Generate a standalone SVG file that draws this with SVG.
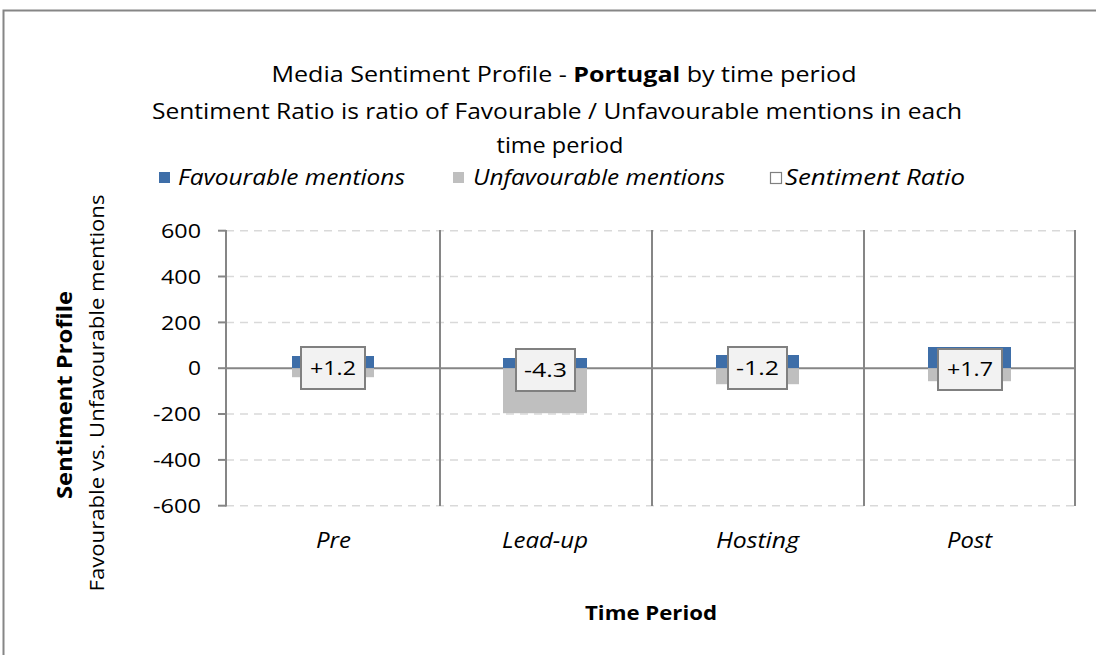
<svg xmlns="http://www.w3.org/2000/svg" width="1096" height="655" viewBox="0 0 1096 655">
  <style>
    .t { font-family: "Open Sans", "Liberation Sans", sans-serif; fill: #000; }
    .title { font-size: 21px; text-anchor: middle; }
    .leg { font-size: 21px; font-style: italic; }
    .tick { font-size: 20px; text-anchor: end; }
    .cat { font-size: 21px; font-style: italic; text-anchor: middle; }
    .ratio { font-size: 20px; text-anchor: middle; }
    .grid { stroke: #d9d9d9; stroke-width: 1.5; stroke-dasharray: 8 6; }
    .axis { stroke: #868686; stroke-width: 2; fill: none; }
    .fav { fill: #3e6ea8; }
    .unf { fill: #bfbfbf; }
    .box { fill: #f2f2f2; stroke: #808080; stroke-width: 2; }
  </style>

  <!-- chart frame -->
  <rect x="0" y="0" width="1096" height="655" fill="#fff"/>
  <path d="M3.5 655 V10.5 H1096" class="axis" stroke-width="1.5"/>

  <!-- title -->
  <g id="title">
    <text class="t title" x="564" y="82" textLength="585" lengthAdjust="spacingAndGlyphs">Media Sentiment Profile - <tspan font-weight="bold">Portugal</tspan> by time period</text>
    <text class="t title" x="557" y="119" textLength="810" lengthAdjust="spacingAndGlyphs">Sentiment Ratio is ratio of Favourable / Unfavourable mentions in each</text>
    <text class="t title" x="560" y="153" textLength="127" lengthAdjust="spacingAndGlyphs">time period</text>
  </g>

  <!-- legend -->
  <g id="legend">
    <rect x="159" y="172" width="11" height="11" class="fav"/>
    <text class="t leg" x="178" y="185" textLength="227" lengthAdjust="spacingAndGlyphs">Favourable mentions</text>
    <rect x="453" y="172" width="11" height="11" class="unf"/>
    <text class="t leg" x="473" y="185" textLength="252" lengthAdjust="spacingAndGlyphs">Unfavourable mentions</text>
    <rect x="770.5" y="172.5" width="11" height="11" fill="#fff" stroke="#808080" stroke-width="1.2"/>
    <text class="t leg" x="785" y="185" textLength="180" lengthAdjust="spacingAndGlyphs">Sentiment Ratio</text>
  </g>

  <!-- gridlines -->
  <g id="grid">
    <line x1="226" y1="230.7" x2="1075" y2="230.7" class="grid"/>
    <line x1="226" y1="276.5" x2="1075" y2="276.5" class="grid"/>
    <line x1="226" y1="322.4" x2="1075" y2="322.4" class="grid"/>
    <line x1="226" y1="414" x2="1075" y2="414" class="grid"/>
    <line x1="226" y1="459.9" x2="1075" y2="459.9" class="grid"/>
    <line x1="226" y1="505.7" x2="1075" y2="505.7" class="grid"/>
  </g>

  <!-- axes and period separators -->
  <g id="axes">
    <line x1="226" y1="230" x2="226" y2="506.5" class="axis"/>
    <line x1="218" y1="230.7" x2="226" y2="230.7" class="axis"/>
    <line x1="218" y1="276.5" x2="226" y2="276.5" class="axis"/>
    <line x1="218" y1="322.4" x2="226" y2="322.4" class="axis"/>
    <line x1="218" y1="368.2" x2="226" y2="368.2" class="axis"/>
    <line x1="218" y1="414" x2="226" y2="414" class="axis"/>
    <line x1="218" y1="459.9" x2="226" y2="459.9" class="axis"/>
    <line x1="218" y1="505.7" x2="226" y2="505.7" class="axis"/>
    <line x1="226" y1="368.2" x2="1075" y2="368.2" class="axis"/>
    <line x1="440" y1="230" x2="440" y2="506" class="axis"/>
    <line x1="652" y1="230" x2="652" y2="506" class="axis"/>
    <line x1="864" y1="230" x2="864" y2="506" class="axis"/>
    <line x1="1075" y1="230" x2="1075" y2="506" class="axis"/>
  </g>

  <!-- y tick labels -->
  <g id="yticks">
    <text class="t tick" x="201" y="238" textLength="40" lengthAdjust="spacingAndGlyphs">600</text>
    <text class="t tick" x="201" y="284" textLength="40" lengthAdjust="spacingAndGlyphs">400</text>
    <text class="t tick" x="201" y="330" textLength="40" lengthAdjust="spacingAndGlyphs">200</text>
    <text class="t tick" x="201" y="375" textLength="13" lengthAdjust="spacingAndGlyphs">0</text>
    <text class="t tick" x="201" y="421" textLength="48" lengthAdjust="spacingAndGlyphs">-200</text>
    <text class="t tick" x="201" y="467" textLength="48" lengthAdjust="spacingAndGlyphs">-400</text>
    <text class="t tick" x="201" y="513" textLength="48" lengthAdjust="spacingAndGlyphs">-600</text>
  </g>

  <!-- bars -->
  <g id="pre">
    <rect x="292" y="356" width="82" height="12.2" class="fav"/>
    <rect x="292" y="368.2" width="82" height="9" class="unf"/>
    <rect x="301" y="347" width="64" height="42" class="box"/>
    <text class="t ratio" x="333" y="375" textLength="46" lengthAdjust="spacingAndGlyphs">+1.2</text>
  </g>
  <g id="lead-up">
    <rect x="503" y="358" width="84" height="10.2" class="fav"/>
    <rect x="503" y="368.2" width="84" height="45" class="unf"/>
    <rect x="516" y="349" width="59" height="42" class="box"/>
    <text class="t ratio" x="545.5" y="377" textLength="43" lengthAdjust="spacingAndGlyphs">-4.3</text>
  </g>
  <g id="hosting">
    <rect x="716" y="355" width="83" height="13.2" class="fav"/>
    <rect x="716" y="368.2" width="83" height="16" class="unf"/>
    <rect x="728" y="347" width="59" height="42" class="box"/>
    <text class="t ratio" x="757.5" y="375" textLength="43" lengthAdjust="spacingAndGlyphs">-1.2</text>
  </g>
  <g id="post">
    <rect x="928" y="347" width="83" height="21.2" class="fav"/>
    <rect x="928" y="368.2" width="83" height="13" class="unf"/>
    <rect x="938" y="349" width="64" height="41" class="box"/>
    <text class="t ratio" x="970" y="376" textLength="46" lengthAdjust="spacingAndGlyphs">+1.7</text>
  </g>

  <!-- category labels -->
  <g id="categories">
    <text class="t cat" x="333.5" y="548" textLength="35" lengthAdjust="spacingAndGlyphs">Pre</text>
    <text class="t cat" x="545" y="548" textLength="86" lengthAdjust="spacingAndGlyphs">Lead-up</text>
    <text class="t cat" x="757.5" y="548" textLength="83" lengthAdjust="spacingAndGlyphs">Hosting</text>
    <text class="t cat" x="969.5" y="548" textLength="45" lengthAdjust="spacingAndGlyphs">Post</text>
  </g>

  <!-- axis titles -->
  <g id="axis-titles">
    <text class="t" x="651" y="620" font-size="20" font-weight="bold" text-anchor="middle" textLength="132" lengthAdjust="spacingAndGlyphs">Time Period</text>
    <text class="t" transform="translate(72 395) rotate(-90)" font-size="22" font-weight="bold" text-anchor="middle" textLength="208" lengthAdjust="spacingAndGlyphs">Sentiment Profile</text>
    <text class="t" transform="translate(104 393) rotate(-90)" font-size="20" text-anchor="middle" textLength="397" lengthAdjust="spacingAndGlyphs">Favourable vs. Unfavourable mentions</text>
  </g>
</svg>
